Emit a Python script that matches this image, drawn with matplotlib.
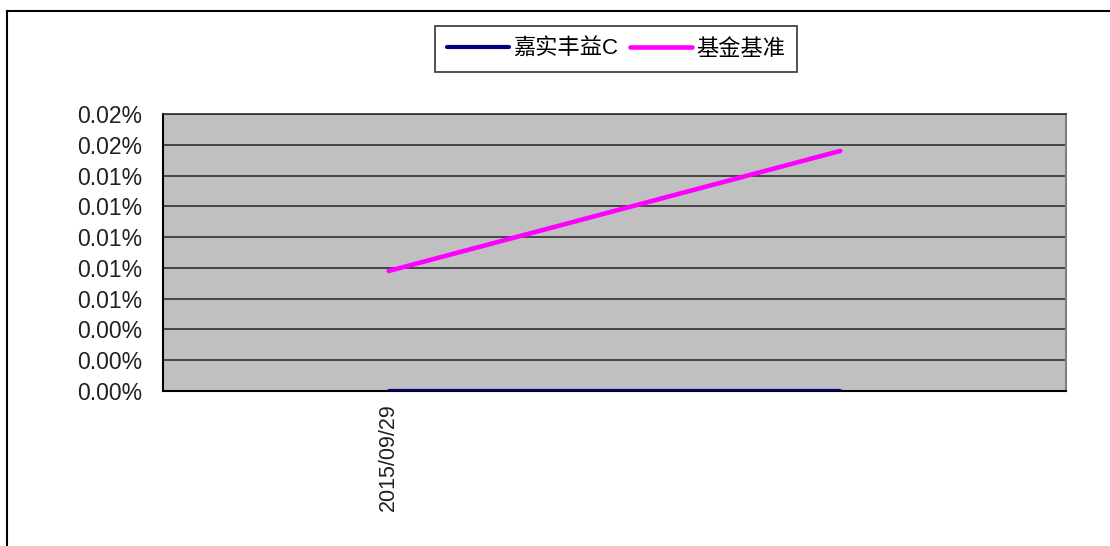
import matplotlib
matplotlib.use("Agg")
import matplotlib.pyplot as plt
from matplotlib.lines import Line2D

plt.rcParams['font.family'] = ['Liberation Sans', 'Noto Sans CJK SC', 'DejaVu Sans']

# data (values in percent)
dates = ["2015/09/29", ""]
fund_c = [0.0, 0.0]
benchmark = [0.0078, 0.0156]

y_ticks = [0.000, 0.002, 0.004, 0.006, 0.008, 0.010, 0.012, 0.014, 0.016, 0.018]
y_labels = ["0.00%", "0.00%", "0.00%", "0.01%", "0.01%",
            "0.01%", "0.01%", "0.01%", "0.02%", "0.02%"]

fig = plt.figure(figsize=(11.1, 5.46), dpi=100)
ax = fig.add_axes([163 / 1110, 1 - 391 / 546, (1066 - 163) / 1110, (391 - 114) / 546])
ax.set_facecolor("#c0c0c0")

x = list(range(len(dates)))
ax.plot(x, fund_c, color="#000080", linewidth=3, label="嘉实丰益C", solid_capstyle="round", zorder=3)
ax.plot(x, benchmark, color="#ff00ff", linewidth=3.3, label="基金基准", solid_capstyle="round", zorder=3)

ax.set_xlim(-0.5, len(dates) - 0.5)
ax.set_ylim(0, 0.018)
ax.set_yticks(y_ticks)
ax.set_yticklabels(y_labels, fontsize=16.5)
ax.set_xticks(x)
ax.set_xticklabels(dates, rotation=90, fontsize=15.5)
ax.tick_params(axis="x", length=0, pad=9)
ax.tick_params(axis="y", length=0, pad=15)

for v in y_ticks[1:]:
    ax.axhline(v, color="#303030", linewidth=1.2, zorder=1)

ax.spines["left"].set_color("black")
ax.spines["left"].set_linewidth(1.5)
ax.spines["bottom"].set_color("black")
ax.spines["bottom"].set_linewidth(1.5)
ax.spines["right"].set_color("#808080")
ax.spines["right"].set_linewidth(1.5)
ax.spines["top"].set_color("#303030")
ax.spines["top"].set_linewidth(1.2)

for t in ax.get_yticklabels() + ax.get_xticklabels():
    t.set_color("#202020")

leg = fig.legend(loc="center", bbox_to_anchor=(616 / 1110, 1 - 49 / 546), ncol=2,
                 fontsize=16, frameon=True, fancybox=False, handlelength=2.8,
                 handletextpad=0.2, columnspacing=0.5, borderpad=0.55)
leg.get_frame().set_edgecolor("black")
leg.get_frame().set_linewidth(1.2)

# outer border (top and left)
fig.add_artist(Line2D([7 / 1110, 1.0], [1 - 11 / 546, 1 - 11 / 546], color="black", linewidth=1.5))
fig.add_artist(Line2D([7 / 1110, 7 / 1110], [0.0, 1 - 11 / 546], color="black", linewidth=1.5))

fig.savefig("out.png", dpi=100)
